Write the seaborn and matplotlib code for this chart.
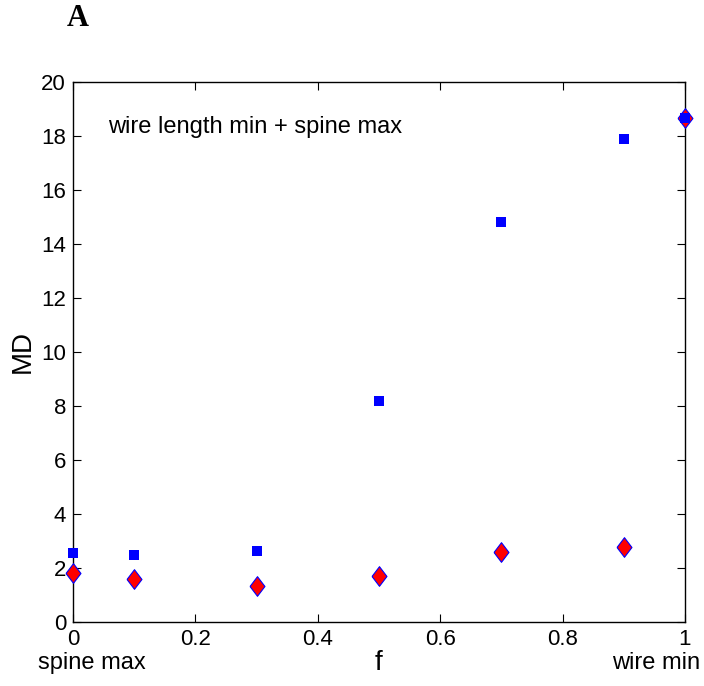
import numpy as np
import pandas as pd
import seaborn as sns
import matplotlib.pyplot as plt

sns.set_style("ticks")
plt.rcParams['font.family'] = ['Liberation Sans', 'DejaVu Sans']
plt.rcParams['text.color'] = 'black'
plt.rcParams['axes.labelcolor'] = 'black'

# data
f_vals = [0.0, 0.1, 0.3, 0.5, 0.7, 0.9, 1.0]
md_square = [2.55, 2.48, 2.62, 8.2, 14.8, 17.9, 18.65]
md_diamond = [1.8, 1.6, 1.35, 1.72, 2.6, 2.78, 18.65]

df = pd.DataFrame({"f": f_vals, "sq": md_square, "dm": md_diamond})

fig = plt.figure(figsize=(7.04, 6.86), dpi=100)
ax = fig.add_axes([0.1037, 0.0933, 0.8693, 0.7872])

diamond = [(-0.76, 0), (0, 1), (0.76, 0), (0, -1), (-0.76, 0)]
sns.scatterplot(data=df, x="f", y="dm", ax=ax, marker=diamond, s=200,
                color="red", edgecolor="blue", linewidth=0.8, zorder=3, clip_on=False)
sns.scatterplot(data=df, x="f", y="sq", ax=ax, marker="s", s=56,
                color="blue", edgecolor="blue", linewidth=0, zorder=4, clip_on=False)

ax.set_xlim(0, 1)
ax.set_ylim(0, 20)
ax.set_xticks(np.arange(0, 1.01, 0.2))
ax.set_xticklabels(["0", "0.2", "0.4", "0.6", "0.8", "1"])
ax.set_yticks(np.arange(0, 21, 2))
ax.tick_params(direction="in", length=6, width=0.8, labelsize=16,
               top=True, right=True, colors="black", pad=5)
for sp in ax.spines.values():
    sp.set_linewidth(1.0)
    sp.set_color("black")

ax.set_xlabel("f", fontsize=20, labelpad=0)
ax.set_ylabel("MD", fontsize=20, labelpad=4)
ax.text(0.057, 18.35, "wire length min + spine max", fontsize=17, va="center")

fig.text(38 / 704, 1 - 663 / 686, "spine max", fontsize=17, va="center", ha="left")
fig.text(700 / 704, 1 - 663 / 686, "wire min", fontsize=17, va="center", ha="right")
fig.text(67 / 704, 1 - 18 / 686, "A", fontsize=22, fontweight="bold",
         family=["Liberation Serif", "DejaVu Serif"], va="center", ha="left")

fig.savefig("out.png", dpi=100)
